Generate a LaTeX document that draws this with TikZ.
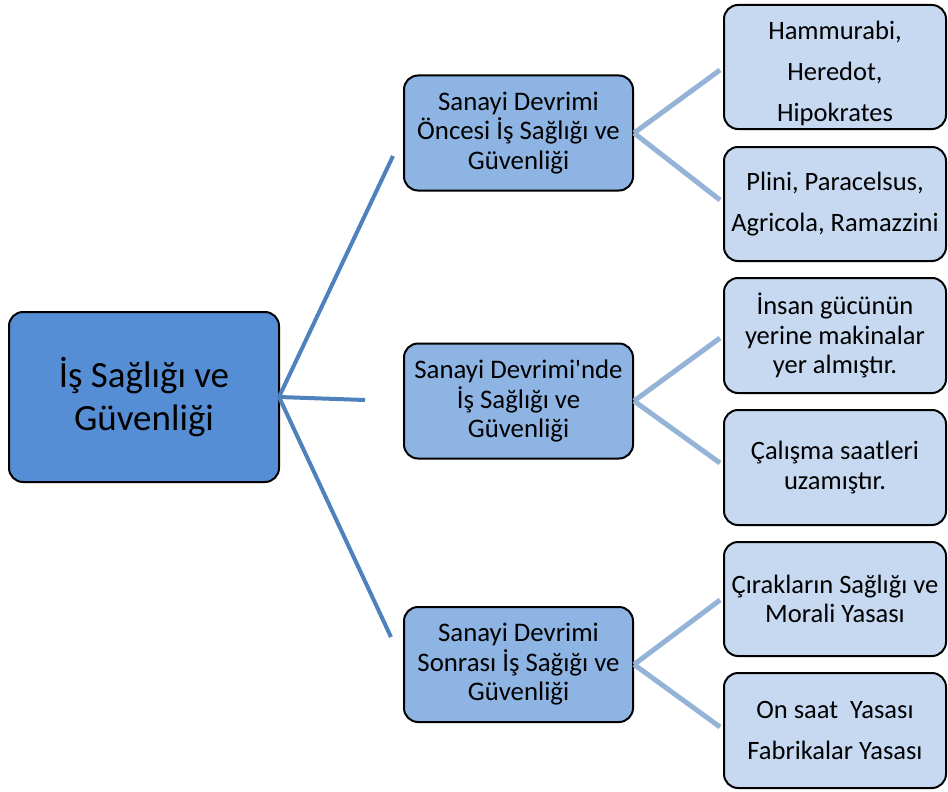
\documentclass[tikz,border=0pt]{standalone}
\usepackage{fontspec}
\setmainfont{Carlito}[Ligatures=TeXOff]
\begin{document}
\begin{tikzpicture}[x=1pt,y=-1pt,
  box/.style={draw=black, line width=2pt, rounded corners=14pt, align=center, inner sep=0pt},
  rootbox/.style={box, fill=rootblue, minimum width=270pt, minimum height=170pt,
    font=\fontsize{37}{43}\selectfont},
  midbox/.style={box, fill=midblue, minimum width=229pt, minimum height=115pt,
    font=\fontsize{26.8}{29.5}\selectfont},
  leafbox/.style={box, fill=leafblue, minimum width=222pt, minimum height=115pt,
    font=\fontsize{26.5}{29.5}\selectfont},
  wide/.style={font=\fontsize{26.5}{41}\selectfont},
  trunk/.style={draw=trunkblue, line width=4pt},
  twig/.style={draw=twigblue, line width=5pt}]
\definecolor{rootblue}{HTML}{558ED5}
\definecolor{midblue}{HTML}{8EB4E3}
\definecolor{leafblue}{HTML}{C6D9F1}
\definecolor{trunkblue}{HTML}{4F81BD}
\definecolor{twigblue}{HTML}{95B3D7}
\useasboundingbox (0,0) rectangle (948,792);

% root
\node[rootbox] (root) at (144,397) {İş Sağlığı ve\\Güvenliği};

% three periods
\node[midbox] (m1) at (518.5,133) {Sanayi Devrimi\\Öncesi İş Sağlığı ve\\Güvenliği};
\node[midbox] (m2) at (518.5,401) {Sanayi Devrimi'nde\\İş Sağlığı ve\\Güvenliği};
\node[midbox] (m3) at (518.5,664.5) {Sanayi Devrimi\\Sonrası İş Sağığı ve\\Güvenliği};

% details (a tall strut on the first line lowers the text block)
\node[leafbox, wide, minimum height=124pt] (l1) at (835,67) {\rule{0pt}{32pt}Hammurabi,\\Heredot,\\Hipokrates};
\node[leafbox, wide, minimum height=114pt] (l2) at (835,204) {Plini, Paracelsus,\\Agricola, Ramazzini};
\node[leafbox] (l3) at (835,335.5) {İnsan gücünün\\yerine makinalar\\yer almıştır.};
\node[leafbox] (l4) at (835,467.5) {Çalışma saatleri\\uzamıştır.};
\node[leafbox, minimum height=114pt] (l5) at (835,599) {Çırakların Sağlığı ve\\Morali Yasası};
\node[leafbox, wide] (l6) at (835,730.5) {On saat\ \ Yasası\\Fabrikalar Yasası};

% trunk connectors end short of the period boxes
\coordinate (t1) at (393,156);
\coordinate (t2) at (365,400);
\coordinate (t3) at (391,637);
\coordinate (r0) at (279,397);
\draw[trunk] (r0) -- (t1);
\draw[trunk] (r0) -- (t2);
\draw[trunk] (r0) -- (t3);

% twig connectors
\coordinate (a1) at (720,70);
\coordinate (a2) at (720,200);
\coordinate (b1) at (720,338);
\coordinate (b2) at (720,463);
\coordinate (c1) at (720,600);
\coordinate (c2) at (720,727);
\draw[twig] (m1.east) -- (a1);
\draw[twig] (m1.east) -- (a2);
\draw[twig] (m2.east) -- (b1);
\draw[twig] (m2.east) -- (b2);
\draw[twig] (m3.east) -- (c1);
\draw[twig] (m3.east) -- (c2);
\end{tikzpicture}
\end{document}
